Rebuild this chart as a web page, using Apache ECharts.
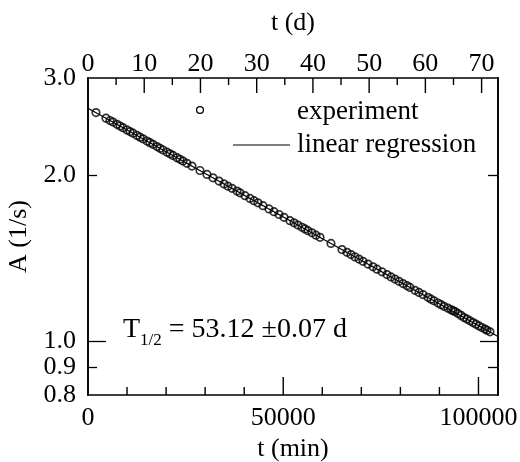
<!DOCTYPE html>
<html><head><meta charset="utf-8">
<script src="https://cdn.jsdelivr.net/npm/echarts@6/dist/echarts.min.js"></script>
<style>html,body{margin:0;padding:0;background:#fff}#c{width:520px;height:462px}</style>
</head><body><div id="c"></div>
<script>
// measured decay data: time (min) and activity A (1/s)
const tMin = [2050,4610,5630,6400,7430,8200,8960,9990,10760,11520,12550,13320,14090,15110,15880,16650,17670,18440,19210,20230,21000,21770,22790,23560,24330,25350,26630,
  28680,30480,32010,33550,34830,35850,36880,38160,38930,40210,41490,42510,43540,44820,46350,47630,48920,50200,51730,
  52760,53780,54810,55570,56340,57370,58390,59420,62230,65050,66330,67350,68380,69400,70430,71710,72990,74010,75290,76570,77600,78620,79650,
  80670,81700,82460,83740,84770,85790,87070,87840,88610,89640,90400,91170,92200,92960,93480,93990,94760,95530,96290,97060,97830,98600,99370,100140,100900,101670,102180,102950];
const activity = [2.597,2.537,2.513,2.496,2.473,2.456,2.439,2.416,2.399,2.383,2.361,2.344,2.328,2.306,2.291,2.275,2.254,2.238,2.222,2.202,2.187,2.172,2.152,2.137,2.122,2.102,2.078,
  2.040,2.007,1.979,1.952,1.929,1.911,1.894,1.872,1.859,1.837,1.816,1.799,1.783,1.762,1.738,1.718,1.698,1.678,1.655,
  1.640,1.625,1.610,1.599,1.587,1.573,1.558,1.544,1.505,1.467,1.450,1.437,1.423,1.410,1.397,1.381,1.365,1.352,1.337,1.322,1.309,1.297,1.285,
  1.273,1.262,1.253,1.238,1.227,1.216,1.202,1.193,1.185,1.174,1.166,1.158,1.149,1.142,1.137,1.133,1.124,1.115,1.105,1.098,1.090,1.082,1.075,1.067,1.060,1.053,1.048,1.041];
// linear regression (straight line on log scale)
const fitT = [0, 105000];
const fitA = [2.645, 1.0213];
// axes
const xMax = 105000;
const minPerDay = 1440;
const yMin = 0.8;
const yMax = 3.0;
const xLabelValues = [0, 50000, 100000];
const xMajorTicks = [50000, 100000];
const xMinorTicks = [10000, 20000, 30000, 40000, 60000, 70000, 80000, 90000];
const dayLabelValues = [0, 10, 20, 30, 40, 50, 60, 70];
const dayMajorTicks = [10, 20, 30, 40, 50, 60, 70];
const dayMinorTicks = [5, 15, 25, 35, 45, 55, 65];
const yLabelValues = [0.8, 0.9, 1.0, 2.0, 3.0];
const yMajorTicks = [1.0];
const yMinorTicks = [0.9, 2.0];
const legendTexts = ['experiment', 'linear regression'];
const halfLife = '53.12 \u00b10.07 d';

const FONT = 'Liberation Serif';
const FS = 26;
const black = '#000';
const lineW = 1.6;
const tickStyle = { color: black, width: 1.3 };
const GRID = { left: 88, right: 22, top: 78, bottom: 67 };
const plotH = 462 - GRID.top - GRID.bottom;

const scatterData = tMin.map((t, i) => [t, activity[i]]);
const fitData = fitT.map((t, i) => [t, fitA[i]]);

const labelStyle = { color: black, fontFamily: FONT, fontSize: FS };
const mkLine = () => ({ show: true, onZero: false, lineStyle: { color: black, width: lineW } });

function xAx(pos, max, labels, margin, extra) {
  return Object.assign({
    type: 'value', position: pos, min: 0, max: max,
    axisLine: mkLine(),
    axisTick: { show: false },
    minorTick: { show: false },
    axisLabel: Object.assign({ show: true, customValues: labels, formatter: v => String(v), margin: margin }, labelStyle),
    splitLine: { show: false }
  }, extra || {});
}
function yAx(pos, ticks, len, labels, extra) {
  return Object.assign({
    type: 'log', logBase: 10, min: yMin, max: yMax, position: pos,
    axisLine: mkLine(),
    axisTick: { show: true, inside: true, length: len, customValues: ticks, lineStyle: tickStyle },
    minorTick: { show: false },
    axisLabel: labels ? Object.assign({ show: true, customValues: labels, formatter: v => Number(v).toFixed(1), margin: 12 }, labelStyle) : { show: false },
    splitLine: { show: false }
  }, extra || {});
}
// x-axis tick marks as short vertical line series drawn through the axes' scales.
// tick length given in pixels, converted to the log y-scale span.
const pxToLogFactor = px => Math.exp(px * Math.log(yMax / yMin) / plotH);
function tickSeries(xAxisIndex, values, len, atBottom) {
  return values.map(v => ({
    type: 'line', xAxisIndex: xAxisIndex, yAxisIndex: 0, silent: true, clip: false, z: 6,
    showSymbol: false, symbol: 'none', animation: false,
    data: atBottom ? [[v, yMin], [v, yMin * pxToLogFactor(len)]] : [[v, yMax], [v, yMax / pxToLogFactor(len)]],
    lineStyle: { color: black, width: 1.4 },
    emphasis: { disabled: true }
  }));
}

const chart = echarts.init(document.getElementById('c'), null, { renderer: 'canvas' });
chart.setOption({
  animation: false,
  backgroundColor: '#fff',
  grid: Object.assign({ containLabel: false, outerBoundsMode: 'none' }, GRID),
  xAxis: [
    xAx('bottom', xMax, xLabelValues, 10, {
      name: 't (min)', nameLocation: 'middle', nameGap: 40, nameTextStyle: labelStyle
    }),
    xAx('top', xMax / minPerDay, dayLabelValues, 1, {
      name: 't (d)', nameLocation: 'middle', nameGap: 42, nameTextStyle: labelStyle
    })
  ],
  yAxis: [
    yAx('left', yMajorTicks, 18, yLabelValues, {
      name: 'A (1/s)', nameLocation: 'middle', nameGap: 44, nameRotate: 90, nameTextStyle: labelStyle
    }),
    yAx('left', yMinorTicks, 9, null),
    yAx('right', yMajorTicks, 18, null),
    yAx('right', yMinorTicks, 10, null)
  ],
  series: [
    {
      name: legendTexts[1], type: 'line', xAxisIndex: 0, yAxisIndex: 0, data: fitData,
      showSymbol: false, lineStyle: { color: black, width: 1.2 }, z: 2, silent: true
    },
    {
      name: legendTexts[0], type: 'scatter', xAxisIndex: 0, yAxisIndex: 0, data: scatterData,
      symbol: 'circle', symbolSize: 7.5,
      itemStyle: { color: 'rgba(255,255,255,0)', borderColor: black, borderWidth: 1.7 }, z: 3
    }
  ].concat(
    tickSeries(0, xMajorTicks, 18, true),
    tickSeries(0, xMinorTicks, 8, true),
    tickSeries(1, dayMajorTicks, 15, false),
    tickSeries(1, dayMinorTicks, 7, false)
  ),
  graphic: [
    { type: 'circle', shape: { cx: 200, cy: 110, r: 3.4 }, style: { fill: 'transparent', stroke: black, lineWidth: 1.3 } },
    { type: 'text', x: 297, y: 112, style: { text: legendTexts[0], font: '27px "Liberation Serif"', fill: black, verticalAlign: 'middle' } },
    { type: 'line', shape: { x1: 233, y1: 145, x2: 290, y2: 145 }, style: { stroke: black, lineWidth: 1.2 } },
    { type: 'text', x: 297, y: 145, style: { text: legendTexts[1], font: '27px "Liberation Serif"', fill: black, verticalAlign: 'middle' } },
    { type: 'text', x: 123, y: 330, style: {
      text: '{a|T}{s|1/2}{a| = ' + halfLife + '}', verticalAlign: 'middle',
      rich: {
        a: { fontFamily: FONT, fontSize: 28, fill: black, verticalAlign: 'bottom' },
        s: { fontFamily: FONT, fontSize: 17, fill: black, verticalAlign: 'bottom', padding: [0, 0, -5, 0] }
      }
    } }
  ]
});
</script></body></html>
